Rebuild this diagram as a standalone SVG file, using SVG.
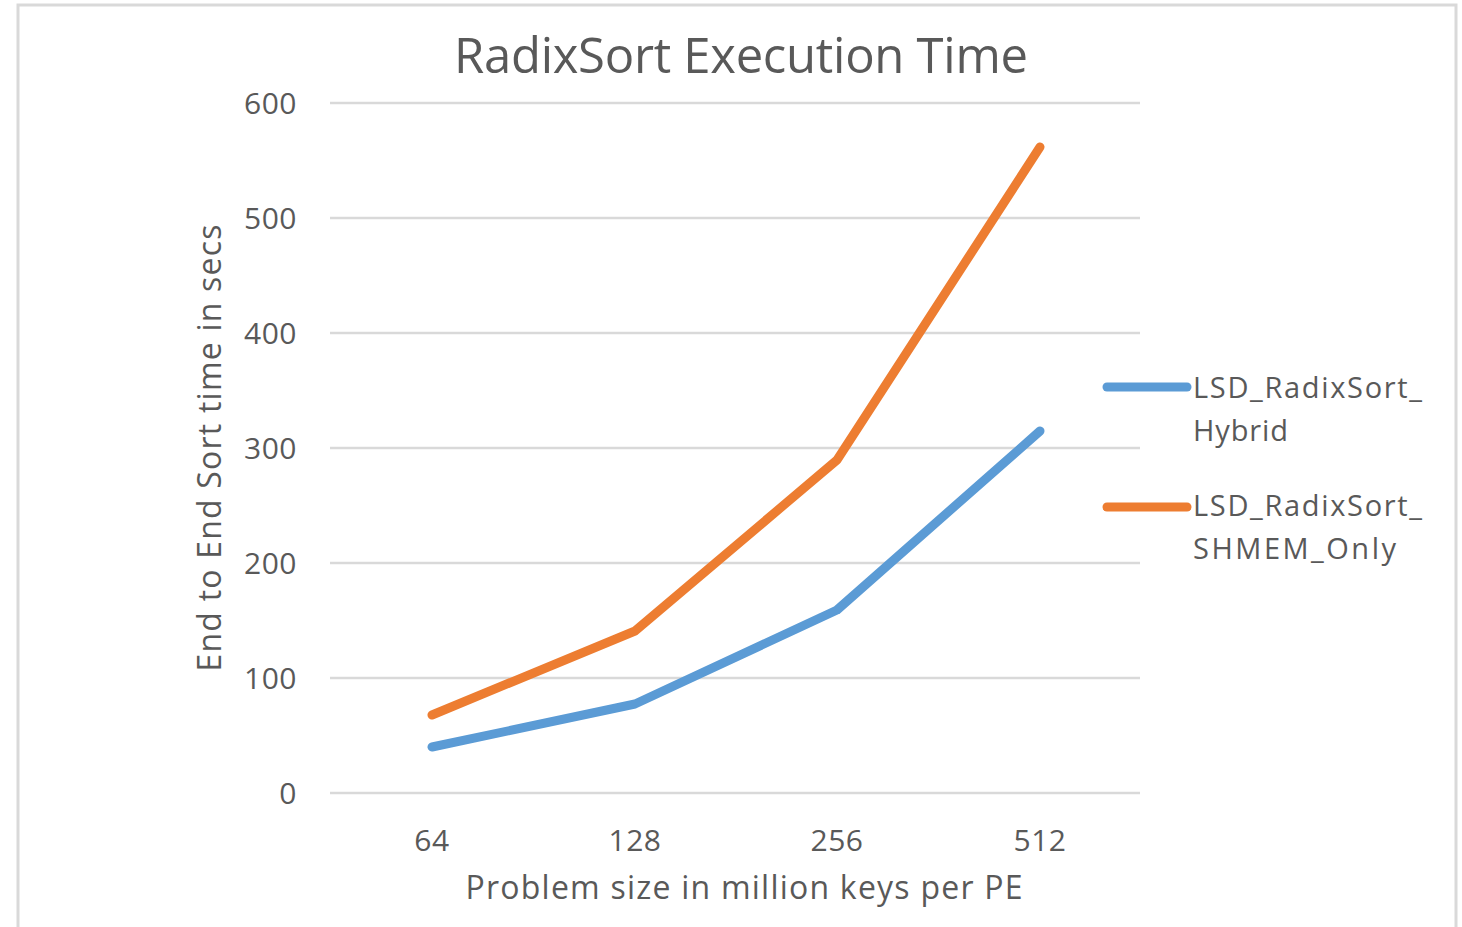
<svg xmlns="http://www.w3.org/2000/svg" width="1462" height="927" viewBox="0 0 1462 927">
  <style>
    .txt { font-family: "Open Sans", "Noto Sans", "DejaVu Sans", sans-serif; fill: #595959; }
    .tick { font-size: 30px; text-anchor: end; letter-spacing: 0.5px; }
    .cat { font-size: 30px; text-anchor: middle; letter-spacing: 0.5px; }
    .axis { font-size: 32px; text-anchor: middle; }
    .legend { font-size: 29px; }
    .grid { stroke: #d9d9d9; stroke-width: 2.5; }
    .series { fill: none; stroke-width: 9; stroke-linecap: round; stroke-linejoin: round; }
    .hybrid { stroke: #5b9bd5; }
    .shmem { stroke: #ed7d31; }
  </style>

  <!-- chart area -->
  <rect x="0" y="0" width="1462" height="927" fill="#ffffff"/>
  <rect id="frame" x="18" y="5" width="1438" height="930" fill="none" stroke="#d9d9d9" stroke-width="3"/>

  <!-- title -->
  <text id="title" class="txt" x="741" y="73" font-size="49" text-anchor="middle" textLength="574">RadixSort Execution Time</text>

  <!-- horizontal gridlines -->
  <g id="gridlines">
    <line class="grid" x1="330" y1="103" x2="1140" y2="103"/>
    <line class="grid" x1="330" y1="218" x2="1140" y2="218"/>
    <line class="grid" x1="330" y1="333" x2="1140" y2="333"/>
    <line class="grid" x1="330" y1="448" x2="1140" y2="448"/>
    <line class="grid" x1="330" y1="563" x2="1140" y2="563"/>
    <line class="grid" x1="330" y1="678" x2="1140" y2="678"/>
    <line class="grid" x1="330" y1="793" x2="1140" y2="793"/>
  </g>

  <!-- value axis labels -->
  <g id="y-axis" class="txt tick">
    <text x="297" y="114">600</text>
    <text x="297" y="229">500</text>
    <text x="297" y="344">400</text>
    <text x="297" y="459">300</text>
    <text x="297" y="574">200</text>
    <text x="297" y="689">100</text>
    <text x="297" y="804">0</text>
  </g>
  <text id="y-title" class="txt axis" transform="translate(221 448) rotate(-90)" textLength="447">End to End Sort time in secs</text>

  <!-- category axis labels -->
  <g id="x-axis" class="txt cat">
    <text x="432" y="851">64</text>
    <text x="635" y="851">128</text>
    <text x="837" y="851">256</text>
    <text x="1040" y="851">512</text>
  </g>
  <text id="x-title" class="txt axis" x="744" y="899" textLength="557">Problem size in million keys per PE</text>

  <!-- data series -->
  <g id="connectors">
    <polyline id="series-hybrid" class="series hybrid" points="432,747 635,704 837,610 1040,431"/>
    <polyline id="series-shmem" class="series shmem" points="432,715 635,631 837,460 1040,147"/>
  </g>

  <!-- legend -->
  <g id="legend-hybrid">
    <line class="series hybrid" x1="1107" y1="387" x2="1187" y2="387"/>
    <text class="txt legend" x="1193" y="398" textLength="229">LSD_RadixSort_</text>
    <text class="txt legend" x="1193" y="441" textLength="95">Hybrid</text>
  </g>
  <g id="legend-shmem">
    <line class="series shmem" x1="1107" y1="507" x2="1187" y2="507"/>
    <text class="txt legend" x="1193" y="516" textLength="229">LSD_RadixSort_</text>
    <text class="txt legend" x="1193" y="559" textLength="203">SHMEM_Only</text>
  </g>
</svg>
